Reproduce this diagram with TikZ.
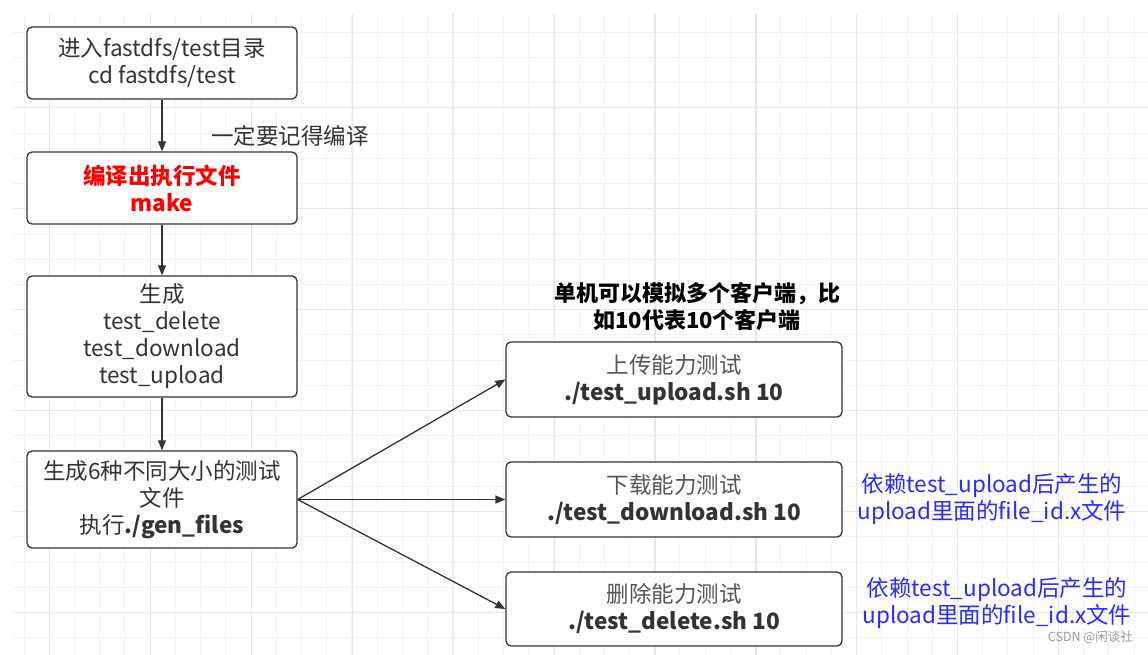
\documentclass[tikz,border=0pt]{standalone}
\usepackage{fontspec}
\setmainfont{Noto Sans CJK SC}
\usetikzlibrary{arrows.meta}
\definecolor{gridminor}{HTML}{F2F2F2}
\definecolor{gridmajor}{HTML}{E6E6E6}
\definecolor{edgec}{HTML}{333333}
\definecolor{txt}{HTML}{333333}
\definecolor{lighttxt}{HTML}{555555}
\definecolor{bluetxt}{HTML}{2B2BFF}
\definecolor{redtxt}{HTML}{FF0000}
\newcommand{\fs}{\fontsize{22.5pt}{27pt}\selectfont}
\tikzset{
  box/.style={draw=edgec, line width=1.3pt, rounded corners=5pt, fill=white,
    minimum width=270pt, align=center, text=txt, inner sep=0pt,
    font=\fs},
  testbox/.style={box, minimum width=336pt, minimum height=75pt},
  conn/.style={draw=edgec, line width=1.3pt, -{Triangle[length=10pt,width=8pt]}},
  lbl/.style={align=center, inner sep=0pt, font=\fs},
}
\begin{document}
\begin{tikzpicture}[x=1pt,y=-1pt]
\useasboundingbox (0,0) rectangle (1148,655);
\fill[white] (0,0) rectangle (1148,655);
% grid
\foreach \i in {0,...,44} {
  \pgfmathsetmacro\xx{24+25.23*\i}
  \draw[gridminor, line width=1pt] (\xx,14) -- (\xx,655);
}
\foreach \i in {0,...,24} {
  \pgfmathsetmacro\yy{32.2+25.23*\i}
  \draw[gridminor, line width=1pt] (13,\yy) -- (1148,\yy);
}
\foreach \i in {0,...,10} {
  \pgfmathsetmacro\xx{49.5+100.92*\i}
  \draw[gridmajor, line width=1.2pt] (\xx,14) -- (\xx,655);
}
\foreach \i in {0,...,5} {
  \pgfmathsetmacro\yy{107.7+100.92*\i}
  \draw[gridmajor, line width=1.2pt] (13,\yy) -- (1148,\yy);
}
% left column
\node[box, minimum height=72pt] (b1) at (162,63) {进入fastdfs/test目录\\cd fastdfs/test};
\node[box, minimum height=72pt, text=redtxt, font=\fs\bfseries] (b2) at (162,188) {编译出执行文件\\make};
\node[box, minimum height=121pt] (b3) at (162,336.5) {生成\\test\_delete\\test\_download\\test\_upload};
\node[box, minimum height=97pt] (b4) at (162,499.5) {生成6种不同大小的测试\\文件\\执行\textbf{./gen\_files}};
% right column
\node[testbox] (b5) at (674,379.5) {{\color{lighttxt}上传能力测试}\\\textbf{./test\_upload.sh 10}};
\node[testbox] (b6) at (674,499.5) {{\color{lighttxt}下载能力测试}\\\textbf{./test\_download.sh 10}};
\node[testbox, minimum height=74pt] (b7) at (674,609) {{\color{lighttxt}删除能力测试}\\\textbf{./test\_delete.sh 10}};
% connectors
\draw[conn] (b1) -- (b2);
\node[lbl, text=txt, anchor=west] (l1) at (211,136) {一定要记得编译};
\draw[conn] (b2) -- (b3);
\draw[conn] (b3) -- (b4);
\draw[conn] (b4.east) -- (b5.west);
\draw[conn] (b4.east) -- (b6.west);
\draw[conn] (b4.east) -- (b7.west);
% labels
\node[lbl, font=\fontsize{22pt}{27pt}\selectfont\bfseries, text=black] (hdr) at (697,306.5) {单机可以模拟多个客户端，比\\如10代表10个客户端};
\node[lbl, text=bluetxt] (n1) at (992,499.5) {依赖test\_upload后产生的\\upload里面的file\_id.x文件};
\node[lbl, text=bluetxt] (n2) at (997,603.5) {依赖test\_upload后产生的\\upload里面的file\_id.x文件};
\node[lbl, text=gray!80, font=\fontsize{12.5pt}{14pt}\selectfont, anchor=east] (wm) at (1133,637) {CSDN @闲谈社};
\end{tikzpicture}
\end{document}
